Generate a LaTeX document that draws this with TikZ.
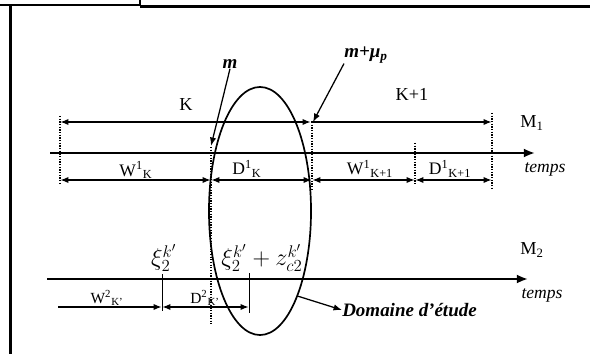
\documentclass[tikz,border=0pt]{standalone}
\usepackage{fontspec}
\setmainfont{Liberation Serif}
\usetikzlibrary{arrows.meta,positioning,shapes.geometric}

\begin{document}
\begin{tikzpicture}[x=0.025cm,y=-0.025cm,
  axe/.style={line width=1.6pt,-{Latex[length=8pt,width=6.5pt]}},
  cote/.style={line width=1.2pt,{Latex[length=6pt,width=4.5pt]}-{Latex[length=6pt,width=4.5pt]}},
  coter/.style={line width=1.2pt,-{Latex[length=6pt,width=4.5pt]}},
  fleche/.style={line width=0.9pt,-{Latex[length=6pt,width=4.5pt]}},
  repere/.style={line width=0.9pt,densely dotted},
  trait/.style={line width=0.7pt},
  cadre/.style={line width=1.6pt},
  lbl/.style={font=\fontsize{13}{15}\selectfont,inner sep=0pt},
  lbls/.style={font=\fontsize{12.5}{14}\selectfont,inner sep=0pt,anchor=base},
  grand/.style={font=\fontsize{18}{21}\selectfont,inner sep=0pt},
  gras/.style={font=\fontsize{13.5}{16}\selectfont\bfseries\itshape,inner sep=0pt}
]
\useasboundingbox (0,0) rectangle (590,354);

% Cadre
\draw[cadre] (0,5) -- (140,5) -- (140,0);
\draw[cadre] (140,6.5) -- (590,6.5);
\draw[cadre] (10.5,6) -- (10.5,354);

% Domaine d'etude
\node[draw,ellipse,line width=1.2pt,minimum width=2.55cm,minimum height=6.2cm,inner sep=0pt] (domaine) at (260,211) {};

% Axes
\coordinate (a1s) at (50,153);  \coordinate (a1e) at (535,153);
\coordinate (a2s) at (47,279);  \coordinate (a2e) at (528,279);
\draw[axe] (a1s) -- (a1e);
\draw[axe] (a2s) -- (a2e);

% Reperes
\draw[repere] (60,116) -- (60,183);
\draw[repere] (211,147) -- (211,324);
\draw[repere] (312,122) -- (312,190);
\draw[repere] (415,143) -- (415,184);
\draw[repere] (492,113) -- (492,189);
\draw[trait] (162,274) -- (162,311);
\draw[trait] (249,273) -- (249,313);

% Periodes K et K+1
\coordinate (k0) at (60,122); \coordinate (k1) at (311,122); \coordinate (k2) at (492,122);
\draw[cote] (k0) -- (k1);
\draw[coter] (k1) -- (k2);
\node[lbl] (K)  at (186,105) {K};
\node[lbl] (K1) at (412,94)  {K+1};
\node[lbl] (M1) at (532,123) {M\textsubscript{1}};
\node[lbl,font=\fontsize{12.5}{14}\selectfont\itshape] (t1) at (545,169) {temps};

% Attentes et durees M1
\coordinate (w0) at (60,180);  \coordinate (w1) at (211,180); \coordinate (w2) at (312,180);
\coordinate (w3) at (415,180); \coordinate (w4) at (492,180);
\draw[cote] (w0) -- (w1);
\draw[cote] (w1) -- (w2);
\draw[cote] (w2) -- (w3);
\draw[cote] (w3) -- (w4);
\node[lbls] (W1K)  at (136,176) {W\textsuperscript{1}\textsubscript{K}};
\node[lbls] (D1K)  at (247,175) {D\textsuperscript{1}\textsubscript{K}};
\node[lbls] (W1K1) at (370,175) {W\textsuperscript{1}\textsubscript{K+1}};
\node[lbls] (D1K1) at (450,175) {D\textsuperscript{1}\textsubscript{K+1}};

% Machine M2
\coordinate (v0) at (58,307); \coordinate (v1) at (162,307); \coordinate (v2) at (249,307);
\draw[coter] (v0) -- (v1);
\draw[cote] (v1) -- (v2);
\node[lbls,font=\fontsize{11}{13}\selectfont] (W2K) at (107,303) {W\textsuperscript{2}\textsubscript{K'}};
\node[lbls,font=\fontsize{11}{13}\selectfont] (D2K) at (205,303) {D\textsuperscript{2}\textsubscript{K'}};
\node[lbl] (M2) at (532,250) {M\textsubscript{2}};
\node[lbl,font=\fontsize{12.5}{14}\selectfont\itshape] (t2) at (542,295) {temps};
\node[grand] (xi)   at (164,258) {$\xi_2^{k'}$};
\node[grand] (xiz)  at (262,258) {$\xi_2^{k'}+z_{c2}^{k'}$};

% Instants m et m+mu_p
\coordinate (mpt) at (211,146);
\coordinate (mmupt) at (313,122);
\node[gras] (m)   at (230,64) {m};
\node[gras] (mmu) at (366,55) {m+μ\textsubscript{p}};
\draw[fleche] (m.south) -- (mpt);
\draw[fleche] (mmu.south west) -- (mmupt);

% Legende
\node[gras,anchor=west] (etude) at (342,310) {Domaine d’étude};
\draw[fleche] (domaine.-66) -- (etude.west);
\end{tikzpicture}
\end{document}
